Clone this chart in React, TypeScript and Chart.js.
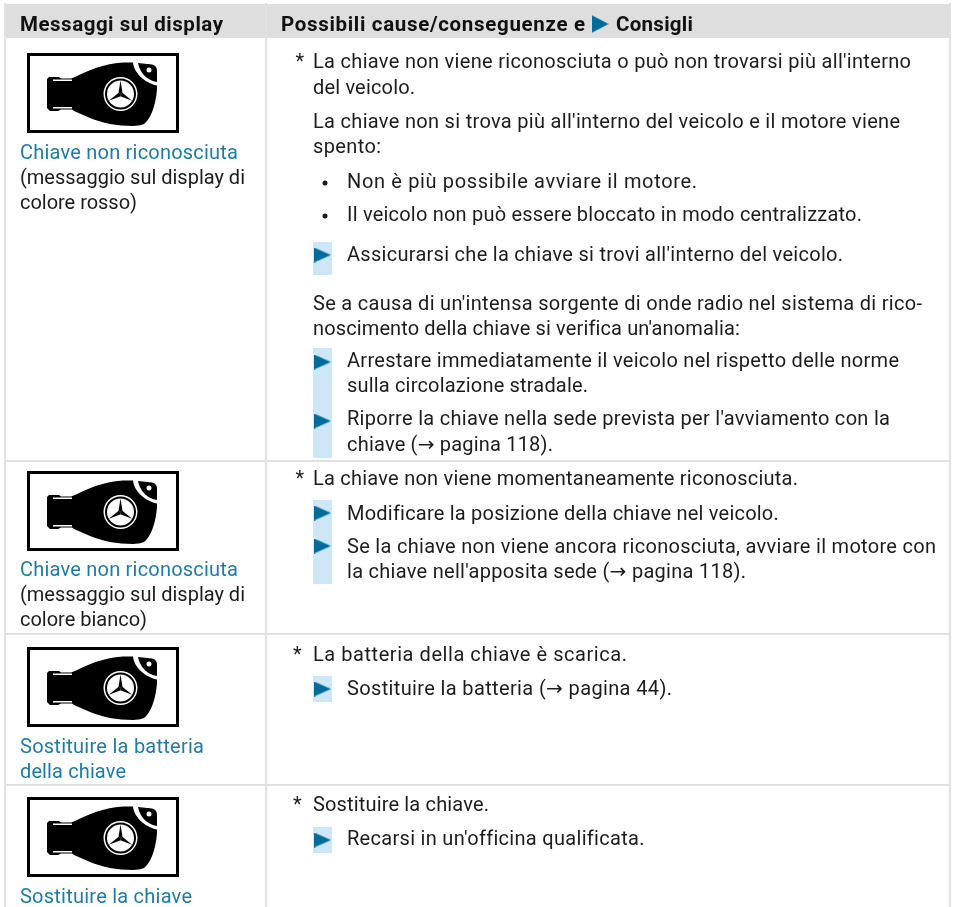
import React, { useEffect, useRef } from "react";
import { Chart, registerables } from "chart.js";

Chart.register(...registerables);

const FONT = 'Roboto';
const TEXT = "#1c1c1c";
const BLUE = "#1f7ba6";
const ARROW = "#006c9c";
const STRIP = "#cde7f7";
const GRID = "#e1e1e1";
const HEAD = "#dedede";

// text, left x, baseline y, right x
const headerTexts = ["Messaggi sul display", "Possibili cause/conseguenze e", "Consigli"];
const headerX = [20, 281, 616];
const headerRight = [223, 585, 693];
const headerY = [31, 31, 31];

const blueTexts = ["Chiave non riconosciuta", "Chiave non riconosciuta", "Sostituire la batteria", "della chiave", "Sostituire la chiave"];
const blueRight = [238, 238, 204, 126, 192];
const blueY = [159, 576, 753, 778, 903];

const noteTexts = ["(messaggio sul display di", "colore rosso)", "(messaggio sul display di", "colore bianco)"];
const noteRight = [245, 137, 245, 147];
const noteY = [184, 209, 601, 626];

const bodyTexts = [
  "La chiave non viene riconosciuta o può non trovarsi più all'interno",
  "del veicolo.",
  "La chiave non si trova più all'interno del veicolo e il motore viene",
  "spento:",
  "Se a causa di un'intensa sorgente di onde radio nel sistema di rico-",
  "noscimento della chiave si verifica un'anomalia:",
  "La chiave non viene momentaneamente riconosciuta.",
  "La batteria della chiave è scarica.",
  "Sostituire la chiave.",
];
const bodyRight = [911, 415, 900, 381, 922, 739, 798, 627, 489];
const bodyY = [68, 94, 128, 153, 310, 335, 485, 661, 811];

const adviceTexts = [
  "Non è più possibile avviare il motore.",
  "Il veicolo non può essere bloccato in modo centralizzato.",
  "Assicurarsi che la chiave si trovi all'interno del veicolo.",
  "Arrestare immediatamente il veicolo nel rispetto delle norme",
  "sulla circolazione stradale.",
  "Riporre la chiave nella sede prevista per l'avviamento con la",
  "chiave (→ pagina 118).",
  "Modificare la posizione della chiave nel veicolo.",
  "Se la chiave non viene ancora riconosciuta, avviare il motore con",
  "la chiave nell'apposita sede (→ pagina 118).",
  "Sostituire la batteria (→ pagina 44).",
  "Recarsi in un'officina qualificata.",
];
const adviceRight = [697, 862, 843, 899, 588, 890, 553, 778, 936, 746, 672, 642];
const adviceY = [188, 221, 261, 367, 392, 425, 451, 520, 553, 578, 695, 845];

const starY = [68, 485, 661, 811];
const starX = [295.5, 295.5, 293, 293];
const arrowY = [255, 362, 421, 513, 546, 689, 840];
const bulletY = [183, 216];
const stripRanges = [[242, 275], [348, 458], [500, 584], [676, 702], [827, 853]];
const iconTop = [53, 471, 647, 797];

const gridSegments = [
  [[5, 3], [5, 907]],
  [[266, 3], [266, 907]],
  [[950, 3], [950, 907]],
  [[5, 461], [950, 461]],
  [[5, 634], [950, 634]],
  [[5, 785], [950, 785]],
];

function segmentsToPoints(segments: number[][][]) {
  const out: any[] = [];
  segments.forEach(([a, b]) => {
    out.push({ x: a[0], y: a[1] }, { x: b[0], y: b[1] }, { x: NaN, y: NaN });
  });
  return out;
}

function makeTriangle(w: number, h: number) {
  const c = document.createElement("canvas");
  c.width = w;
  c.height = h;
  const g = c.getContext("2d")!;
  g.fillStyle = ARROW;
  g.beginPath();
  g.moveTo(0, 0);
  g.lineTo(w, h / 2);
  g.lineTo(0, h);
  g.closePath();
  g.fill();
  return c;
}

const KEY_BODY = new Path2D(
  "M20 26 L22 24 L32 24 L34 25.5 L44 25.5 L48 24 C60 18 75 11 96 9.5 L106 9.5 C107 20 118 30 130 32.5 L130 36 C129 50 125 62 120 68 C117 72 114 72.5 106 73 C90 73 75 70 63 65 L47 58 L45 56.5 L34 56.5 L31 58 L23 58 L20 55 Z"
);
const KEY_TIP = new Path2D("M111 10 L125 11.5 C129 12.5 130 15 130 18 L130 29 C120 27.5 113 20 111 10 Z");

const plugin = {
  id: "page",
  afterDatasetsDraw(chart: any) {
    const { ctx, scales } = chart;
    const X = (v: number) => scales.x.getPixelForValue(v);
    const Y = (v: number) => scales.y.getPixelForValue(v);

    const put = (t: string, x: number, y: number, right: number, font: string, color: string) => {
      ctx.save();
      ctx.fillStyle = color;
      ctx.textBaseline = "alphabetic";
      ctx.letterSpacing = "0px";
      const arrowFont = font.replace(FONT, '"DejaVu Sans"');
      const parts = t.split(/(→)/).filter(Boolean);
      const fontFor = (p: string) => (p === "→" ? arrowFont : font);
      let w = 0;
      parts.forEach((p) => {
        ctx.font = fontFor(p);
        w += ctx.measureText(p).width;
      });
      const sp = (X(right) - X(x) - w) / Math.max(1, t.length - 1);
      ctx.letterSpacing = sp.toFixed(3) + "px";
      let cx = X(x);
      parts.forEach((p) => {
        ctx.font = fontFor(p);
        ctx.fillText(p, cx, Y(y));
        cx += ctx.measureText(p).width;
      });
      ctx.restore();
    };

    const regular = `20px ${FONT}`;
    const bold = `bold 20.5px ${FONT}`;
    headerTexts.forEach((t, i) => put(t, headerX[i], headerY[i], headerRight[i], bold, "#111"));
    blueTexts.forEach((t, i) => put(t, 20, blueY[i], blueRight[i], regular, BLUE));
    noteTexts.forEach((t, i) => put(t, 20, noteY[i], noteRight[i], regular, TEXT));
    bodyTexts.forEach((t, i) => put(t, 313, bodyY[i], bodyRight[i], regular, TEXT));
    adviceTexts.forEach((t, i) => put(t, 347, adviceY[i], adviceRight[i], regular, TEXT));
    starY.forEach((y, i) => {
      ctx.save();
      ctx.font = regular;
      ctx.fillStyle = TEXT;
      ctx.fillText("*", X(starX[i]), Y(y));
      ctx.restore();
    });

    iconTop.forEach((top) => {
      ctx.save();
      ctx.translate(X(27), Y(top));
      ctx.lineWidth = 3;
      ctx.strokeStyle = "#000";
      ctx.strokeRect(1.5, 1.5, 149, 77);
      ctx.fillStyle = "#000";
      ctx.fill(KEY_BODY);
      ctx.fill(KEY_TIP);
      ctx.fillStyle = "#fff";
      ctx.fillRect(26, 26.5, 19, 1.5);
      ctx.fillRect(26, 54, 19, 1.5);
      ctx.beginPath();
      ctx.arc(122, 17, 2.5, 0, Math.PI * 2);
      ctx.fill();
      ctx.translate(93.5, 41);
      ctx.beginPath();
      ctx.arc(0, 0, 17, 0, Math.PI * 2);
      ctx.fill();
      ctx.fillStyle = "#000";
      ctx.beginPath();
      ctx.arc(0, 0, 15.5, 0, Math.PI * 2);
      ctx.fill();
      ctx.fillStyle = "#fff";
      ctx.beginPath();
      ctx.arc(0, 0, 13.5, 0, Math.PI * 2);
      ctx.fill();
      ctx.fillStyle = "#000";
      for (let k = 0; k < 3; k++) {
        ctx.save();
        ctx.rotate((k * 2 * Math.PI) / 3);
        ctx.beginPath();
        ctx.moveTo(0, -13.5);
        ctx.lineTo(2, -1);
        ctx.lineTo(0, 0);
        ctx.lineTo(-2, -1);
        ctx.closePath();
        ctx.fill();
        ctx.restore();
      }
      ctx.restore();
    });
  },
};

export default function App() {
  const ref = useRef<HTMLCanvasElement>(null);
  useEffect(() => {
    const chart = new Chart(ref.current!, {
      type: "scatter",
      data: {
        datasets: [
          {
            data: [{ x: 4, y: 21 }, { x: 265, y: 21 }, { x: NaN, y: NaN }, { x: 267, y: 21 }, { x: 951, y: 21 }] as any,
            showLine: true,
            borderColor: HEAD,
            borderWidth: 34,
            pointRadius: 0,
            order: 5,
          },
          {
            data: segmentsToPoints(gridSegments),
            showLine: true,
            borderColor: GRID,
            borderWidth: 2,
            pointRadius: 0,
            order: 4,
          },
          {
            data: stripRanges.flatMap(([a, b]) => [{ x: 322.5, y: a }, { x: 322.5, y: b }, { x: NaN, y: NaN }]) as any,
            showLine: true,
            borderColor: STRIP,
            borderWidth: 19,
            pointRadius: 0,
            order: 3,
          },
          {
            data: arrowY.map((y) => ({ x: 322.5, y })) as any,
            pointStyle: makeTriangle(17, 15) as any,
            order: 2,
          },
          {
            data: [{ x: 600, y: 24 }] as any,
            pointStyle: makeTriangle(17, 18) as any,
            order: 2,
          },
          {
            data: bulletY.map((y) => ({ x: 325, y })) as any,
            pointStyle: "circle",
            pointRadius: 2.5,
            backgroundColor: TEXT,
            borderWidth: 0,
            order: 2,
          },
        ],
      },
      options: {
        animation: false,
        responsive: false,
        layout: { padding: 0, autoPadding: false },
        plugins: { legend: { display: false }, tooltip: { enabled: false }, title: { display: false } },
        scales: {
          x: { type: "linear", min: 0, max: 955, display: false },
          y: { type: "linear", min: 0, max: 907, reverse: true, display: false },
        },
      },
      plugins: [plugin as any],
    });
    return () => chart.destroy();
  }, []);
  return (
    <canvas
      ref={ref}
      width={955}
      height={907}
      style={{ position: "fixed", left: 0, top: 0, width: 955, height: 907, background: "#fff" }}
    />
  );
}
